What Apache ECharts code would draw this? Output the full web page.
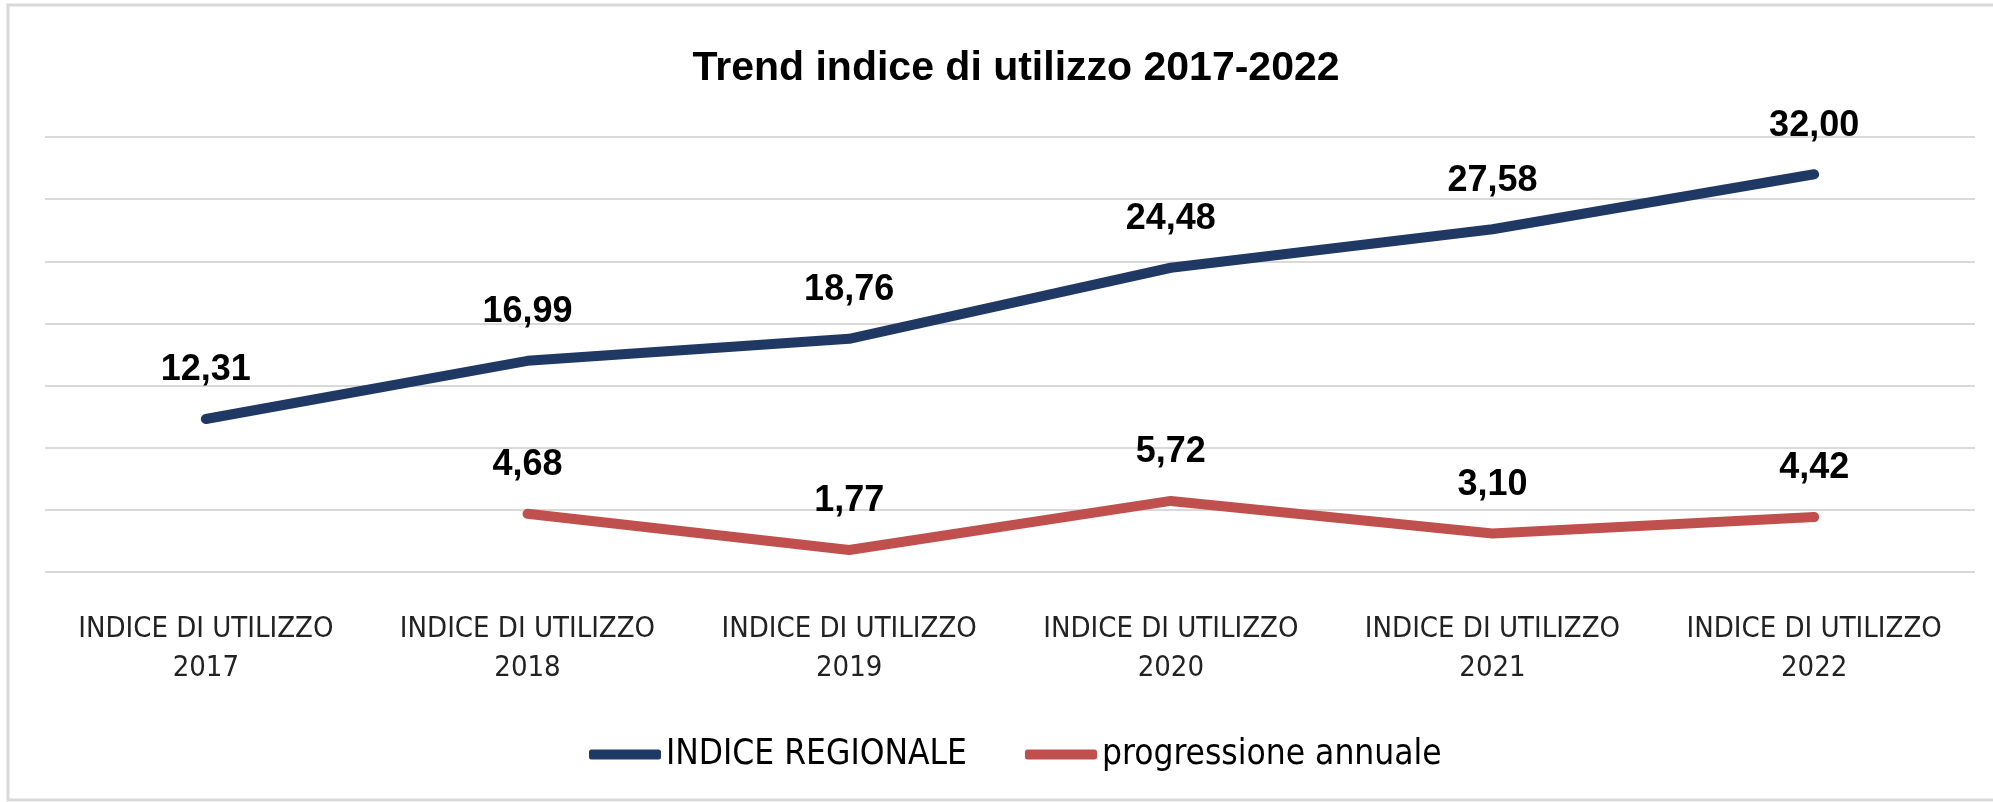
<!DOCTYPE html>
<html>
<head>
<meta charset="utf-8">
<script src="https://cdn.jsdelivr.net/npm/echarts@6/dist/echarts.min.js"></script>
<style>
  html, body { margin: 0; padding: 0; background: #fff; }
  #main { width: 1993px; height: 802px; }
</style>
</head>
<body>
<div id="main"></div>
<script>
// dati
const anni = ['2017', '2018', '2019', '2020', '2021', '2022']
const indiceRegionale = [12.31, 16.99, 18.76, 24.48, 27.58, 32.00]
const progressioneAnnuale = [null, 4.68, 1.77, 5.72, 3.10, 4.42]

const narrow = "'Liberation Sans Narrow', 'DejaVu Sans Condensed', sans-serif"
const bold = "'Liberation Sans', Arial, sans-serif"

const fmt = p => p.value == null ? '' : Number(p.value).toFixed(2).replace('.', ',')

const labelStyle = {
    show: true,
    position: 'top',
    distance: 30,
    formatter: fmt,
    fontFamily: bold,
    fontWeight: 'bold',
    fontSize: 36,
    color: '#000'
}

const option = {
    animation: false,
    backgroundColor: '#fff',
    title: {
        text: 'Trend indice di utilizzo 2017-2022',
        left: 1011,
        textAlign: 'center',
        top: 43,
        textStyle: {
            fontFamily: bold,
            fontWeight: 'bold',
            fontSize: 41,
            color: '#000'
        }
    },
    graphic: [{
        type: 'rect',
        shape: { x: 8, y: 5, width: 2000, height: 795 },
        style: { fill: 'none', stroke: '#d9d9d9', lineWidth: 3 },
        silent: true
    }],
    grid: {
        left: 45,
        right: 18,
        top: 137,
        bottom: 230
    },
    legend: {
        left: 584,
        top: 732,
        itemWidth: 72,
        itemHeight: 10,
        itemGap: 58,
        icon: 'roundRect',
        textStyle: {
            fontFamily: narrow,
            fontSize: 35,
            color: '#000'
        },
        data: ['INDICE REGIONALE', 'progressione annuale']
    },
    xAxis: {
        type: 'category',
        data: anni.map(a => 'INDICE DI UTILIZZO\n' + a),
        axisLine: { show: false },
        axisTick: { show: false },
        axisLabel: {
            interval: 0,
            margin: 38,
            fontFamily: narrow,
            fontSize: 29,
            lineHeight: 39,
            color: '#222'
        }
    },
    yAxis: {
        type: 'value',
        min: 0,
        max: 35,
        interval: 5,
        axisLabel: { show: false },
        axisLine: { show: false },
        axisTick: { show: false },
        splitLine: { lineStyle: { color: '#d9d9d9', width: 2 } }
    },
    series: [
        {
            name: 'INDICE REGIONALE',
            type: 'line',
            data: indiceRegionale,
            symbol: 'circle',
            symbolSize: 1,
            color: '#1f3864',
            lineStyle: { width: 10, cap: 'round', join: 'round', color: '#1f3864' },
            label: labelStyle
        },
        {
            name: 'progressione annuale',
            type: 'line',
            data: progressioneAnnuale,
            symbol: 'circle',
            symbolSize: 1,
            color: '#c0504d',
            lineStyle: { width: 10, cap: 'round', join: 'round', color: '#c0504d' },
            label: labelStyle
        }
    ]
}

var myChart = echarts.init(document.getElementById('main'))
myChart.setOption(option)
</script>
</body>
</html>
